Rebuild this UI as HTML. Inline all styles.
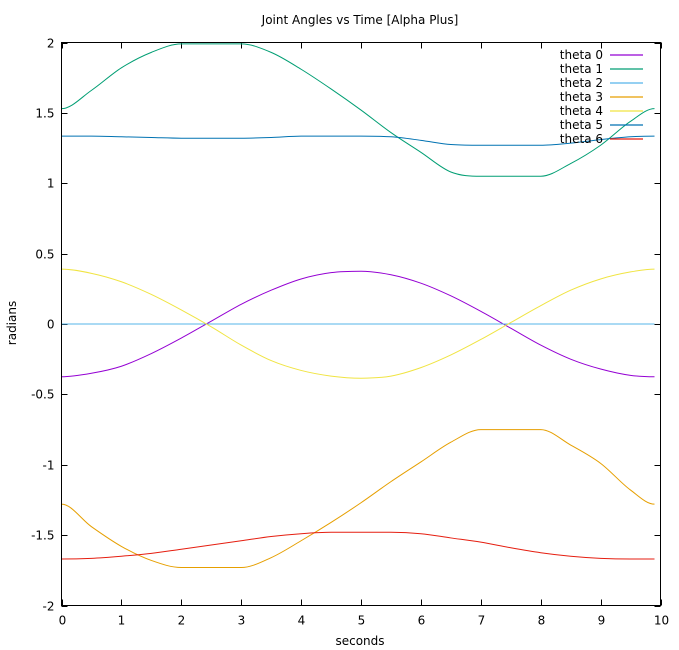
<!DOCTYPE html>
<html><head><meta charset="utf-8"><style>
body{margin:0;background:#fff;}
svg{display:block;font-family:"DejaVu Sans","Liberation Sans",sans-serif;font-size:12px;}
</style></head><body>
<svg id="chart" width="679" height="650" viewBox="0 0 679 650">
<rect width="679" height="650" fill="#fff"/>
<text x="360" y="24" text-anchor="middle">Joint Angles vs Time [Alpha Plus]</text>
<text x="360" y="645" text-anchor="middle">seconds</text>
<text x="16" y="323" text-anchor="middle" transform="rotate(-90 16 323)">radians</text>
<g id="axes"></g>
<g id="series"></g>
<g id="legend"></g>
<rect x="61.5" y="42.5" width="599" height="563" fill="none" stroke="#000" stroke-width="1"/>
</svg>
<script>
const xs = [0,0.5,1,1.5,2,2.5,3,3.5,4,4.5,5,5.5,6,6.5,7,7.5,8,8.5,9,9.5,9.9];
const theta0 = [-0.375,-0.35,-0.30,-0.21,-0.10,0.02,0.14,0.24,0.32,0.365,0.375,0.35,0.29,0.20,0.09,-0.03,-0.15,-0.25,-0.32,-0.365,-0.375];
const theta1 = [1.53,1.66,1.82,1.93,1.99,1.99,1.99,1.93,1.81,1.67,1.52,1.36,1.22,1.08,1.05,1.05,1.05,1.14,1.27,1.44,1.53];
const theta2 = [0,0,0,0,0,0,0,0,0,0,0,0,0,0,0,0,0,0,0,0,0];
const theta3 = [-1.28,-1.44,-1.58,-1.68,-1.73,-1.73,-1.73,-1.66,-1.54,-1.41,-1.27,-1.12,-0.98,-0.84,-0.75,-0.75,-0.75,-0.86,-0.99,-1.18,-1.28];
const theta4 = [0.39,0.36,0.30,0.21,0.10,-0.02,-0.15,-0.26,-0.33,-0.37,-0.385,-0.37,-0.31,-0.22,-0.11,0.01,0.13,0.24,0.32,0.37,0.39];
const theta5 = [1.335,1.335,1.33,1.325,1.32,1.32,1.32,1.325,1.335,1.335,1.335,1.33,1.305,1.275,1.27,1.27,1.27,1.285,1.31,1.33,1.335];
const theta6 = [-1.67,-1.665,-1.65,-1.63,-1.60,-1.57,-1.54,-1.51,-1.49,-1.48,-1.48,-1.48,-1.49,-1.52,-1.55,-1.59,-1.625,-1.65,-1.665,-1.67,-1.67];
const seriesNames = ["theta 0","theta 1","theta 2","theta 3","theta 4","theta 5","theta 6"];
const xTicks = [0,1,2,3,4,5,6,7,8,9,10];
const yTicks = [-2,-1.5,-1,-0.5,0,0.5,1,1.5,2];

const allSeries=[theta0,theta1,theta2,theta3,theta4,theta5,theta6];
const colors=["#9400d3","#009e73","#56b4e9","#e69f00","#f0e442","#0072b2","#e51e10"];
const NS="http://www.w3.org/2000/svg";
const L=61.5,R=660.5,T=42.5,B=605.5;
const sx=v=>L+(v-0)/(10-0)*(R-L);
const sy=v=>B-(v+2)/4*(B-T);
function mk(tag,attrs,parent){const e=document.createElementNS(NS,tag);for(const k in attrs)e.setAttribute(k,attrs[k]);parent.appendChild(e);return e;}
const axes=document.getElementById('axes');
xTicks.forEach(t=>{
  const x=Math.round(sx(t))+0.5;
  const l=mk('path',{d:`M${x},${B}v-6M${x},${T}v6`,stroke:'#000','stroke-width':1},axes);
  
  
  const tx=mk('text',{x:x,y:B+19,'text-anchor':'middle'},axes);tx.textContent=t;
  
  
});
yTicks.forEach(t=>{
  const y=Math.round(sy(t))+0.5;
  const l=mk('path',{d:`M${L},${y}h6M${R},${y}h-6`,stroke:'#000','stroke-width':1},axes);
  
  
  const tx=mk('text',{x:L-7,y:y+4,'text-anchor':'end'},axes);tx.textContent=t;
  
  
});
function smooth(px){
  const n=px.length,m=[];
  const d=[];for(let i=0;i<n-1;i++)d.push((px[i+1][1]-px[i][1])/(px[i+1][0]-px[i][0]));
  for(let i=0;i<n;i++){
    if(i===0||i===n-1)m.push(0);
    else if(d[i-1]*d[i]<=0)m.push(0);else m.push((d[i-1]+d[i])/2);
  }
  let s=`M${px[0][0]},${px[0][1]}`;
  for(let i=0;i<n-1;i++){
    const h=(px[i+1][0]-px[i][0])/3;
    s+=`C${px[i][0]+h},${px[i][1]+m[i]*h} ${px[i+1][0]-h},${px[i+1][1]-m[i+1]*h} ${px[i+1][0]},${px[i+1][1]}`;
  }
  return s;
}
const sg=document.getElementById('series');
const lg=document.getElementById('legend');
allSeries.forEach((s,i)=>{
  const p=mk('path',{d:smooth(s.map((v,j)=>[sx(xs[j]),sy(v)])),fill:'none',stroke:colors[i],'stroke-width':1},sg);
  
  
});
allSeries.forEach((s,i)=>{
  const y=55+i*14;
  const t=mk('text',{x:603,y:y+4,'text-anchor':'end',fill:'#000'},lg);t.textContent=seriesNames[i];
  
  
  const ln=mk('line',{x1:610,y1:y,x2:643,y2:y,stroke:colors[i],'stroke-width':1.2},lg);
  
  
});
</script>
</body></html>
